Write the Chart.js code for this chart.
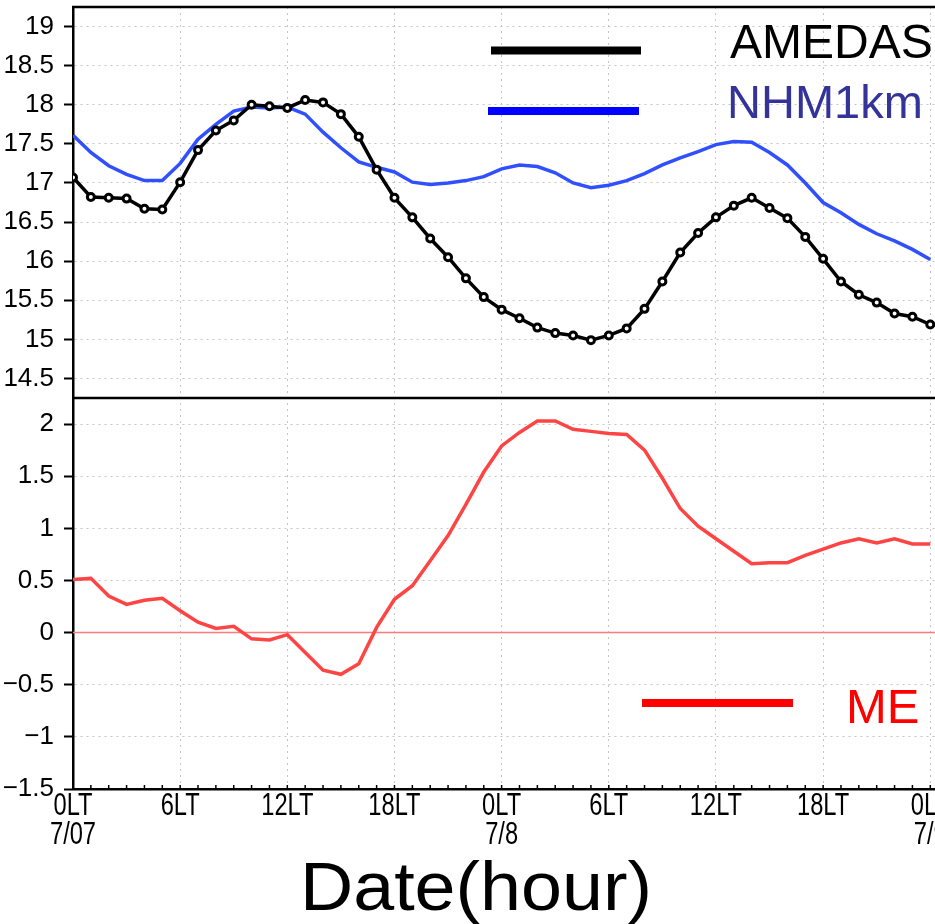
<!DOCTYPE html>
<html>
<head>
<meta charset="utf-8">
<script src="https://cdn.jsdelivr.net/npm/chart.js@4.4.1/dist/chart.umd.min.js"></script>
<style>
  html, body { margin: 0; padding: 0; background: #fff; overflow: hidden; }
  #wrap { position: relative; width: 973px; height: 924px; }
</style>
</head>
<body>
<div id="wrap"><canvas id="chart" width="973" height="924"></canvas></div>
<script>
// --- data (hourly, 0 = 0LT 7/07) ---
const hours = [0, 1, 2, 3, 4, 5, 6, 7, 8, 9, 10, 11, 12, 13, 14, 15, 16, 17, 18, 19, 20, 21, 22, 23,
               24, 25, 26, 27, 28, 29, 30, 31, 32, 33, 34, 35, 36, 37, 38, 39, 40, 41, 42, 43, 44, 45, 46, 47, 48];
const amedas = [17.07, 16.82, 16.81, 16.80, 16.67, 16.66, 17.01, 17.42, 17.67, 17.80, 18.00, 17.98,
                17.96, 18.06, 18.03, 17.88, 17.59, 17.17, 16.81, 16.56, 16.29, 16.05, 15.78, 15.54,
                15.38, 15.27, 15.15, 15.08, 15.05, 14.99, 15.05, 15.14, 15.39, 15.74, 16.11, 16.36,
                16.56, 16.71, 16.81, 16.68, 16.55, 16.31, 16.03, 15.74, 15.57, 15.47, 15.33, 15.29, 15.19];
const nhm1km = [17.61, 17.39, 17.22, 17.11, 17.03, 17.03, 17.25, 17.56, 17.75, 17.92, 17.97, 17.96,
                17.97, 17.88, 17.65, 17.45, 17.27, 17.20, 17.14, 17.01, 16.98, 17.00, 17.03, 17.08,
                17.18, 17.23, 17.21, 17.13, 17.00, 16.94, 16.97, 17.03, 17.12, 17.23, 17.32, 17.40,
                17.49, 17.53, 17.52, 17.39, 17.23, 17.00, 16.75, 16.62, 16.47, 16.35, 16.26, 16.15, 16.02];
const meValues = [0.51, 0.52, 0.35, 0.27, 0.31, 0.33, 0.21, 0.10, 0.04, 0.06, -0.06, -0.07,
                  -0.02, -0.19, -0.36, -0.40, -0.30, 0.05, 0.32, 0.45, 0.69, 0.93, 1.23, 1.54,
                  1.79, 1.92, 2.03, 2.03, 1.95, 1.93, 1.91, 1.90, 1.75, 1.48, 1.19, 1.02,
                  0.90, 0.78, 0.66, 0.67, 0.67, 0.74, 0.80, 0.86, 0.90, 0.86, 0.90, 0.85, 0.85];

// tick values / labels
const hourTicks = [0, 6, 12, 18, 24, 30, 36, 42, 48];
const hourLabels = ['0LT', '6LT', '12LT', '18LT', '0LT', '6LT', '12LT', '18LT', '0LT'];
const dateLabels = ['7/07', '', '', '', '7/8', '', '', '', '7/9'];
const tempTicks = [14.5, 15, 15.5, 16, 16.5, 17, 17.5, 18, 18.5, 19];
const meTicks = [-1.5, -1, -0.5, 0, 0.5, 1, 1.5, 2];

const seriesNames = ['AMEDAS', 'NHM1km', 'ME'];

const toPoints = vals => hours.map((h, i) => ({ x: h, y: vals[i] }));

const gridColor = '#c4c4c4';
const sansFamily = "'Liberation Sans', Arial, sans-serif";
const tickFont = { family: sansFamily, size: 26 };

const numLabel = v => (v < 0 ? '\u2212' + String(-v) : String(v));
const fixedTicks = list => s => { s.ticks = list.map(v => ({ value: v })); };
const noPad = s => { s.paddingTop = 0; s.paddingBottom = 0; s.paddingLeft = 0; s.paddingRight = 0; };

// frame lines, zero line, time labels, legend and axis title
const decorations = {
    id: 'decorations',
    beforeDatasetsDraw(chart) {
        const { ctx, chartArea } = chart;
        const y0 = chart.scales.yB.getPixelForValue(0);
        ctx.save();
        ctx.strokeStyle = '#ff7a7a';
        ctx.lineWidth = 1.5;
        ctx.beginPath();
        ctx.moveTo(chartArea.left, y0);
        ctx.lineTo(chartArea.right, y0);
        ctx.stroke();
        ctx.restore();
    },
    afterDraw(chart) {
        const { ctx, chartArea } = chart;
        const xs = chart.scales.x;
        ctx.save();
        // top border + divider between panels
        ctx.strokeStyle = '#000';
        ctx.lineWidth = 2.5;
        ctx.beginPath();
        ctx.moveTo(chartArea.left - 1, chartArea.top);
        ctx.lineTo(chartArea.right, chartArea.top);
        const yDiv = chart.scales.yB.top;
        ctx.moveTo(chartArea.left, yDiv);
        ctx.lineTo(chartArea.right, yDiv);
        ctx.stroke();

        // hourly minor ticks on the time axis
        ctx.lineWidth = 1.5;
        ctx.beginPath();
        hours.forEach(h => {
            const px = xs.getPixelForValue(h);
            ctx.moveTo(px, xs.top);
            ctx.lineTo(px, xs.top - 4);
        });
        ctx.stroke();

        // condensed time labels under the x axis
        ctx.fillStyle = '#000';
        ctx.font = `32px ${sansFamily}`;
        ctx.textAlign = 'center';
        ctx.textBaseline = 'alphabetic';
        hourTicks.forEach((v, i) => {
            const px = xs.getPixelForValue(v);
            ctx.save();
            ctx.translate(px, 0);
            ctx.scale(0.74, 1);
            ctx.fillText(hourLabels[i], 0, xs.top + 26);
            if (dateLabels[i]) ctx.fillText(dateLabels[i], 0, xs.top + 55);
            ctx.restore();
        });

        // legend
        const items = [
            { name: seriesNames[0], line: '#000000', text: '#000000', x1: 491, x2: 641, ly: 50.5, tx: 730, ty: 58, size: 48 },
            { name: seriesNames[1], line: '#0000ff', text: '#333399', x1: 488, x2: 639, ly: 111, tx: 727, ty: 118, size: 47 },
            { name: seriesNames[2], line: '#ff0000', text: '#ff0000', x1: 642, x2: 793, ly: 703, tx: 846, ty: 723, size: 49 }
        ];
        items.forEach(it => {
            ctx.strokeStyle = it.line;
            ctx.lineWidth = 8;
            ctx.beginPath();
            ctx.moveTo(it.x1, it.ly);
            ctx.lineTo(it.x2, it.ly);
            ctx.stroke();
            ctx.fillStyle = it.text;
            ctx.font = `${it.size}px ${sansFamily}`;
            ctx.textAlign = 'left';
            ctx.fillText(it.name, it.tx, it.ty);
        });

        // x axis title
        ctx.font = `68px ${sansFamily}`;
        ctx.fillStyle = '#000';
        const title = 'Date(hour)';
        const w = ctx.measureText(title).width;
        ctx.translate(476, 910);
        ctx.scale(352 / w, 1);
        ctx.textAlign = 'center';
        ctx.fillText(title, 0, 0);
        ctx.restore();
    }
};

new Chart(document.getElementById('chart').getContext('2d'), {
    type: 'line',
    data: {
        datasets: [
            {
                label: seriesNames[0],
                data: toPoints(amedas),
                yAxisID: 'yT',
                borderColor: '#000',
                borderWidth: 3.5,
                pointRadius: 3.5,
                pointBackgroundColor: '#fff',
                pointBorderColor: '#000',
                pointBorderWidth: 3,
                order: 0
            },
            {
                label: seriesNames[1],
                data: toPoints(nhm1km),
                yAxisID: 'yT',
                borderColor: '#3050ff',
                borderWidth: 3.5,
                pointRadius: 0,
                order: 1
            },
            {
                label: seriesNames[2],
                data: toPoints(meValues),
                yAxisID: 'yB',
                borderColor: '#ff4444',
                borderWidth: 3.5,
                pointRadius: 0,
                order: 2
            }
        ]
    },
    options: {
        responsive: false,
        animation: false,
        layout: { padding: { top: 6, right: 0, bottom: 0, left: 0 } },
        plugins: { legend: { display: false }, tooltip: { enabled: false } },
        scales: {
            x: {
                type: 'linear',
                position: 'bottom',
                min: 0,
                max: 50,
                afterFit: s => { s.height = 135; noPad(s); },
                afterBuildTicks: fixedTicks(hourTicks),
                grid: { color: gridColor, lineWidth: 1, drawTicks: false },
                border: { color: '#000', width: 2.5, dash: [2, 4] },
                ticks: { display: false }
            },
            yB: {
                type: 'linear',
                position: 'left',
                stack: 'panels',
                stackWeight: 1,
                min: -1.5,
                max: 2.25,
                afterFit: s => { s.width = 73; noPad(s); },
                afterBuildTicks: fixedTicks(meTicks),
                grid: { color: gridColor, tickColor: '#000', tickLength: 9, tickWidth: 2, tickBorderDash: [] },
                border: { color: '#000', width: 2.5, dash: [2, 4] },
                ticks: { autoSkip: false, padding: 10, color: '#000', font: tickFont, callback: numLabel }
            },
            yT: {
                type: 'linear',
                position: 'left',
                stack: 'panels',
                stackWeight: 1,
                min: 14.25,
                max: 19.25,
                afterFit: s => { s.width = 73; noPad(s); },
                afterBuildTicks: fixedTicks(tempTicks),
                grid: { color: gridColor, tickColor: '#000', tickLength: 9, tickWidth: 2, tickBorderDash: [] },
                border: { color: '#000', width: 2.5, dash: [2, 4] },
                ticks: { autoSkip: false, padding: 10, color: '#000', font: tickFont, callback: numLabel }
            }
        }
    },
    plugins: [decorations]
});
</script>
</body>
</html>
